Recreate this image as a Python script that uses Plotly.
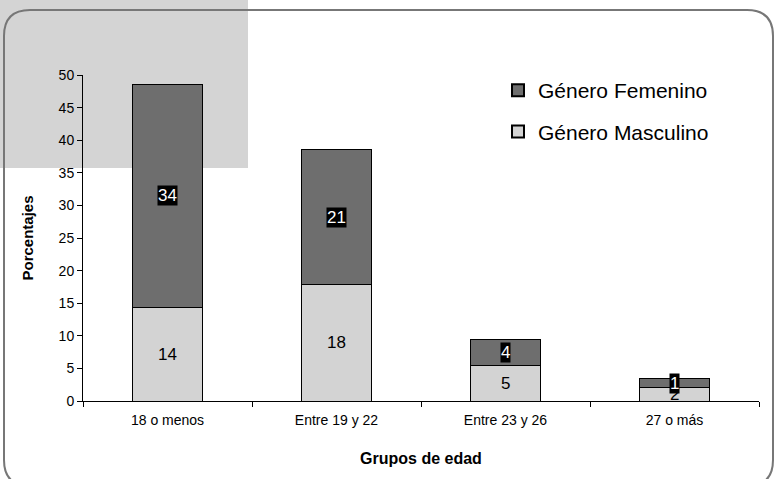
import plotly.graph_objects as go

categorias = ["18 o menos", "Entre 19 y 22", "Entre 23 y 26", "27 o más"]
masculino = [14.4, 17.8, 5.4, 2.0]
femenino = [34.2, 20.7, 4.0, 1.4]
y_ticks = [0, 5, 10, 15, 20, 25, 30, 35, 40, 45, 50]

W, H = 774, 479
L, R, T, B = 83, 15, 75, 78
pw, ph = W - L - R, H - T - B

def px(x):
    return (x - L) / pw

def py(y):
    return (H - B - y) / ph

FONT = "Arial, Liberation Sans, sans-serif"

fig = go.Figure()
fig.add_trace(go.Bar(x=categorias, y=masculino, name="Género Masculino",
                     legendgroup="m", legendrank=2,
                     marker=dict(color="#d3d3d3", line=dict(color="#000", width=1)),
                     width=0.41))
fig.add_trace(go.Bar(x=categorias, y=femenino, name="Género Femenino",
                     legendgroup="f", legendrank=1,
                     marker=dict(color="#6e6e6e", line=dict(color="#000", width=1)),
                     width=0.41))

annotations = []
for c, m, f in zip(categorias, masculino, femenino):
    annotations.append(dict(x=c, y=m / 2, xref="x", yref="y", text=f"{round(m)}",
                            showarrow=False, font=dict(family=FONT, size=17, color="#000")))
    annotations.append(dict(x=c, y=m + f / 2, xref="x", yref="y", text=f"{round(f)}",
                            showarrow=False, bgcolor="#000", borderpad=0,
                            font=dict(family=FONT, size=17, color="#fff")))

# frame path (rounded rectangle) in paper coordinates
x0, y0, x1, y1, r = 4, 10, 773, 486, 26
pts = [
    f"M {px(x0)},{py(y0 + r)}",
    f"Q {px(x0)},{py(y0)} {px(x0 + r)},{py(y0)}",
    f"L {px(x1 - r)},{py(y0)}",
    f"Q {px(x1)},{py(y0)} {px(x1)},{py(y0 + r)}",
    f"L {px(x1)},{py(y1 - r)}",
    f"Q {px(x1)},{py(y1)} {px(x1 - r)},{py(y1)}",
    f"L {px(x0 + r)},{py(y1)}",
    f"Q {px(x0)},{py(y1)} {px(x0)},{py(y1 - r)}",
    "Z",
]
shapes = [
    dict(type="rect", xref="paper", yref="paper", x0=px(0), x1=px(248), y0=py(168), y1=py(0),
         fillcolor="#d4d4d4", line=dict(width=0), layer="below"),
    dict(type="path", xref="paper", yref="paper", path=" ".join(pts),
         line=dict(color="#777777", width=2), layer="below"),
]

fig.update_layout(
    barmode="stack",
    width=W, height=H,
    margin=dict(l=L, r=R, t=T, b=B),
    paper_bgcolor="#ffffff",
    plot_bgcolor="rgba(0,0,0,0)",
    font=dict(family=FONT, color="#000", size=14),
    showlegend=True,
    legend=dict(x=px(498), y=py(70), xanchor="left", yanchor="top",
                font=dict(family=FONT, size=21, color="#000"),
                traceorder="grouped", bgcolor="rgba(0,0,0,0)", tracegroupgap=11,
                itemsizing="constant"),
    annotations=annotations,
    shapes=shapes,
    xaxis=dict(showline=True, linecolor="#000", linewidth=1, ticks="outside",
               tickson="boundaries", ticklen=5, tickcolor="#000", showgrid=False,
               tickfont=dict(size=14), range=[-0.5, 3.5], ticklabelstandoff=6,
               title=dict(text="<b>Grupos de edad</b>", font=dict(size=16), standoff=26)),
    yaxis=dict(showline=True, linecolor="#000", linewidth=1, ticks="outside",
               ticklen=5, tickcolor="#000", showgrid=False, range=[0, 50],
               tickvals=y_ticks, tickfont=dict(size=14), zeroline=False,
               title=dict(text="<b>Porcentajes</b>", font=dict(size=15), standoff=21)),
    bargap=0.59,
)

fig.write_html("out.html", config={"displayModeBar": False},
               post_script="document.body.style.margin='0';document.body.style.overflow='hidden';")
